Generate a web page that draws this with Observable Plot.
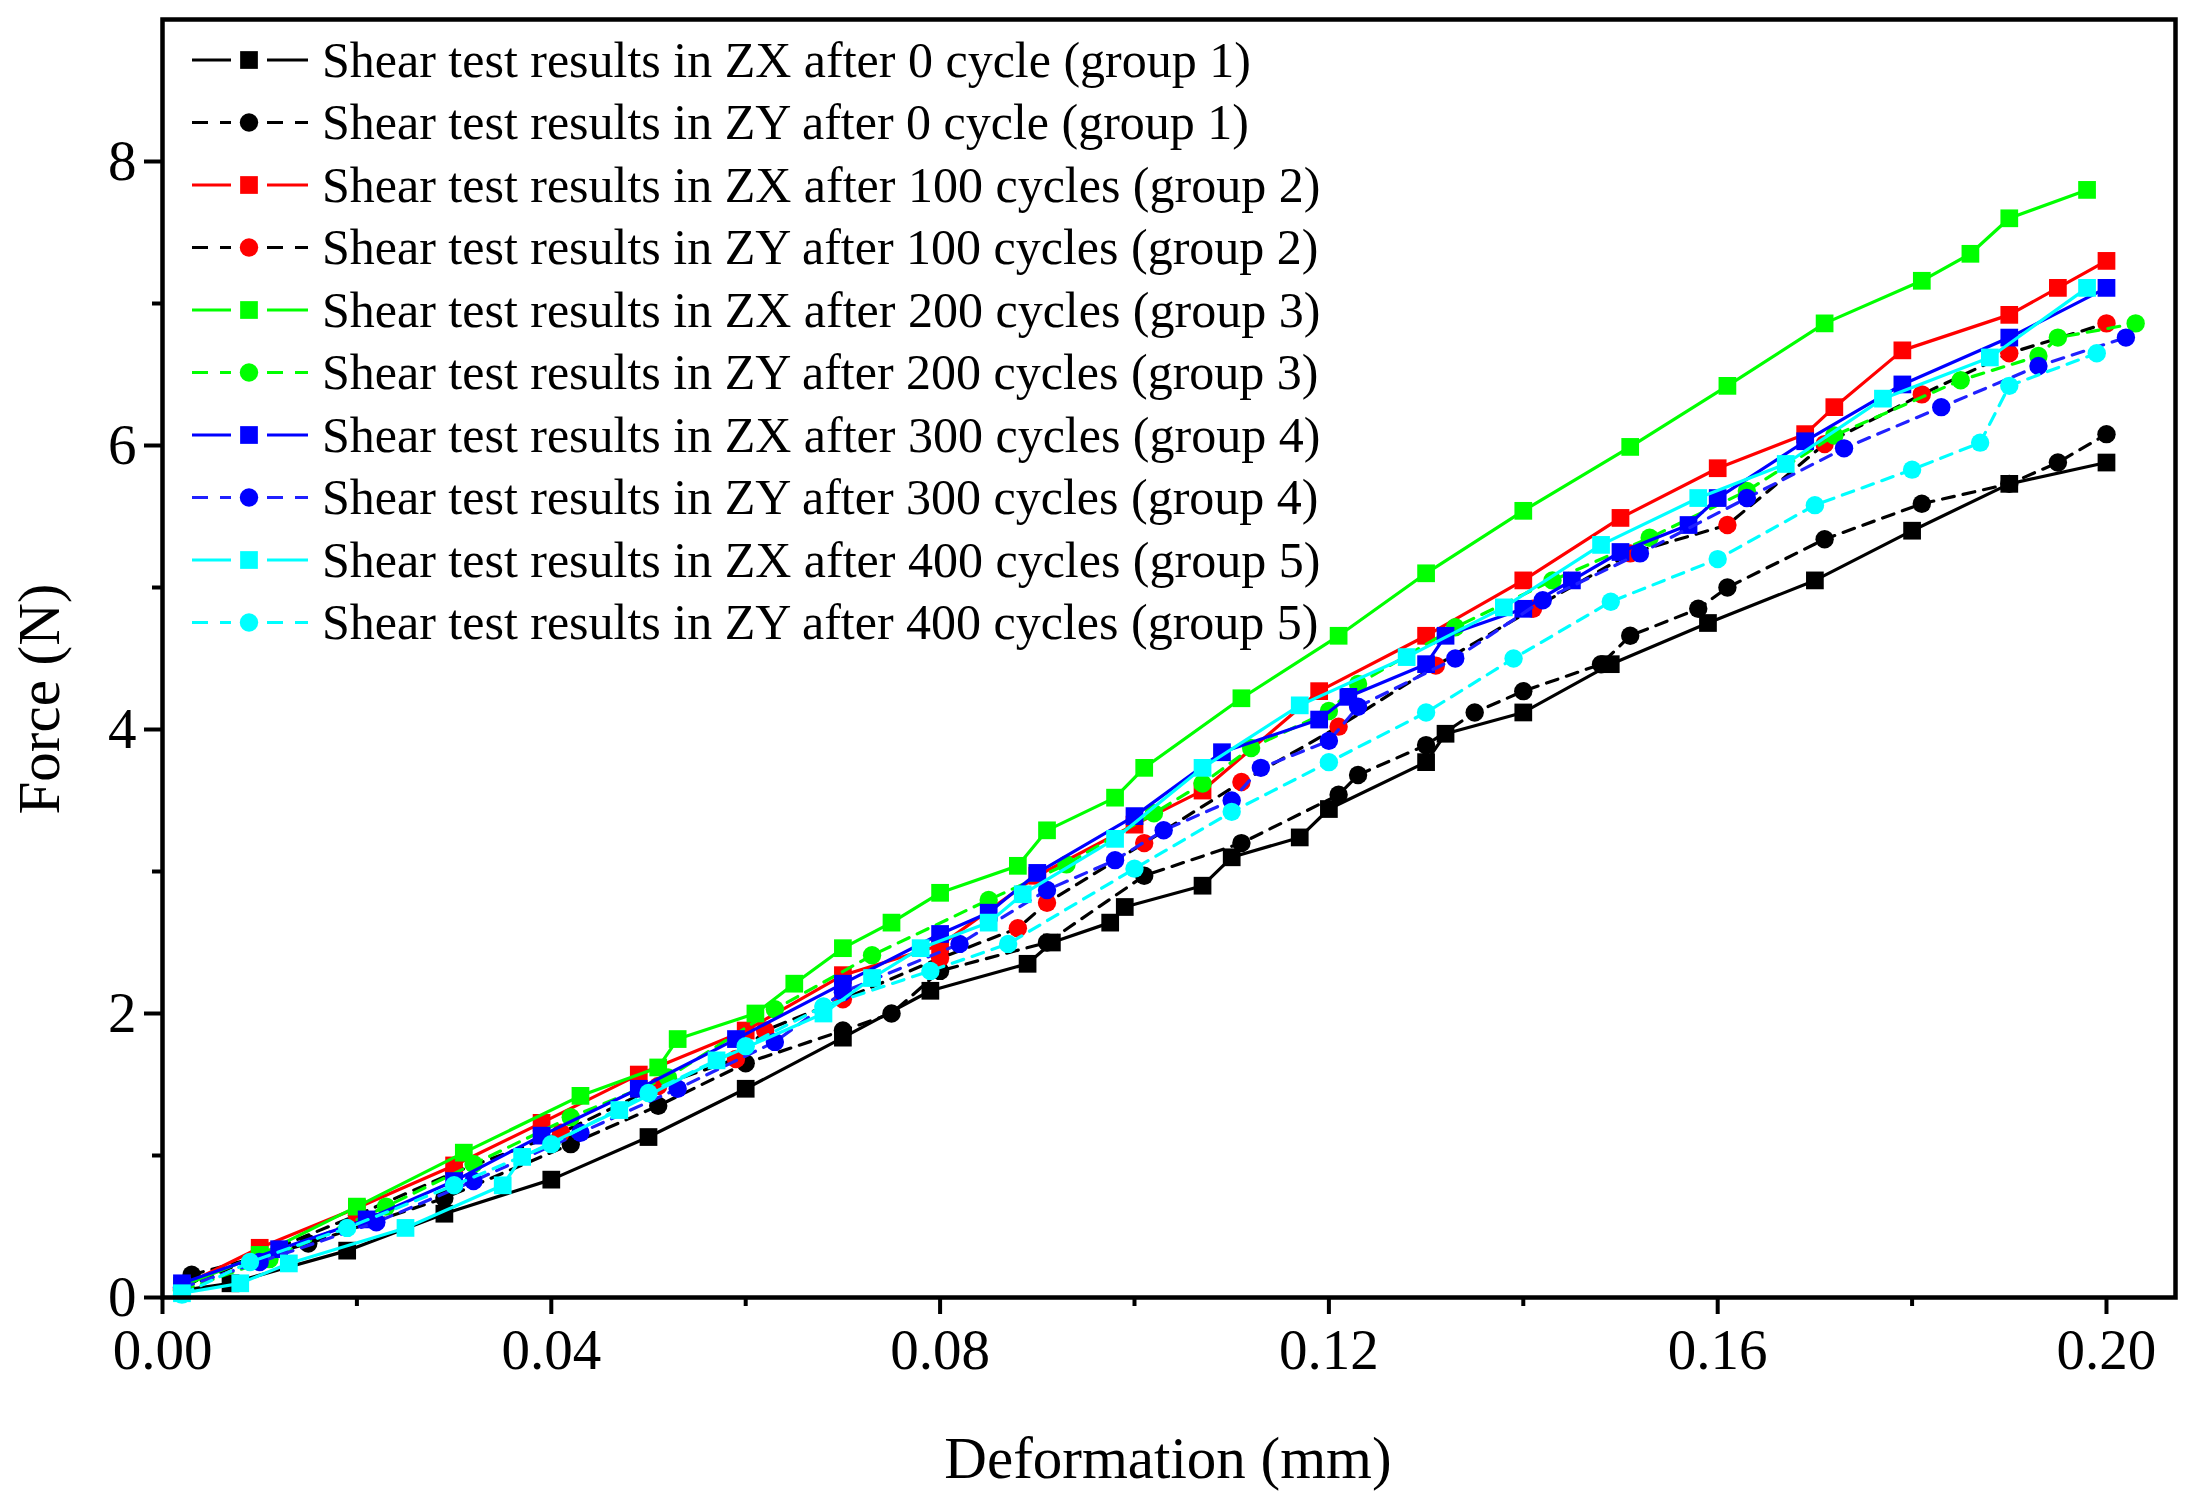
<!DOCTYPE html>
<html><head><meta charset="utf-8">
<script src="https://cdn.jsdelivr.net/npm/d3@7"></script>
<script src="https://cdn.jsdelivr.net/npm/@observablehq/plot@0.6"></script>
<style>body{margin:0;background:#fff;}</style>
</head><body><div id="chart"></div>
<script>
// ---- data ----
const names = [
  "Shear test results in ZX after 0 cycle (group 1)",
  "Shear test results in ZY after 0 cycle (group 1)",
  "Shear test results in ZX after 100 cycles (group 2)",
  "Shear test results in ZY after 100 cycles (group 2)",
  "Shear test results in ZX after 200 cycles (group 3)",
  "Shear test results in ZY after 200 cycles (group 3)",
  "Shear test results in ZX after 300 cycles (group 4)",
  "Shear test results in ZY after 300 cycles (group 4)",
  "Shear test results in ZX after 400 cycles (group 5)",
  "Shear test results in ZY after 400 cycles (group 5)"
];
const markerColors = ["#000000","#000000","#ff0000","#ff0000","#00ff00","#00ff00","#0000ff","#0000ff","#00ffff","#00ffff"];
const lineColors   = ["#000000","#000000","#ff0000","#000000","#00ff00","#00ff00","#0000ff","#2020ff","#00ffff","#00ffff"];
const symbols = ["square","circle","square","circle","square","circle","square","circle","square","circle"];
const dashed  = [false,true,false,true,false,true,false,true,false,true];

const zx0 = [[0.002,0.05],[0.007,0.10],[0.019,0.33],[0.029,0.59],[0.040,0.83],[0.050,1.13],[0.060,1.47],[0.070,1.83],[0.079,2.16],[0.089,2.35],[0.0915,2.50],[0.0975,2.64],[0.099,2.75],[0.107,2.90],[0.110,3.10],[0.117,3.24],[0.120,3.44],[0.130,3.77],[0.132,3.97],[0.140,4.12],[0.149,4.46],[0.159,4.75],[0.170,5.05],[0.180,5.40],[0.190,5.73],[0.200,5.88]];
const zy0 = [[0.003,0.16],[0.015,0.38],[0.029,0.70],[0.042,1.08],[0.051,1.35],[0.060,1.65],[0.070,1.88],[0.075,2.00],[0.080,2.30],[0.091,2.50],[0.101,2.97],[0.111,3.20],[0.121,3.54],[0.123,3.68],[0.130,3.89],[0.135,4.12],[0.140,4.27],[0.148,4.46],[0.151,4.66],[0.158,4.85],[0.161,5.00],[0.171,5.34],[0.181,5.59],[0.190,5.73],[0.195,5.88],[0.200,6.08]];
const zx100 = [[0.002,0.08],[0.010,0.35],[0.020,0.63],[0.030,0.93],[0.039,1.23],[0.049,1.57],[0.060,1.88],[0.070,2.27],[0.080,2.48],[0.090,2.97],[0.100,3.33],[0.107,3.57],[0.119,4.27],[0.130,4.66],[0.140,5.05],[0.150,5.49],[0.160,5.84],[0.169,6.08],[0.172,6.27],[0.179,6.67],[0.190,6.92],[0.195,7.11],[0.200,7.30]];
const zy100 = [[0.002,0.06],[0.010,0.30],[0.020,0.58],[0.030,0.88],[0.041,1.16],[0.051,1.49],[0.059,1.68],[0.062,1.88],[0.070,2.10],[0.080,2.39],[0.088,2.60],[0.091,2.78],[0.101,3.20],[0.111,3.63],[0.121,4.02],[0.131,4.45],[0.141,4.85],[0.151,5.24],[0.161,5.44],[0.171,6.01],[0.181,6.36],[0.190,6.65],[0.200,6.86]];
const zx200 = [[0.002,0.08],[0.010,0.30],[0.020,0.64],[0.031,1.02],[0.043,1.42],[0.051,1.62],[0.053,1.82],[0.061,2.00],[0.065,2.21],[0.070,2.46],[0.075,2.64],[0.080,2.85],[0.088,3.04],[0.091,3.29],[0.098,3.52],[0.101,3.73],[0.111,4.22],[0.121,4.66],[0.130,5.10],[0.140,5.54],[0.151,5.99],[0.161,6.42],[0.171,6.86],[0.181,7.16],[0.186,7.35],[0.190,7.60],[0.198,7.80]];
const zy200 = [[0.002,0.05],[0.011,0.27],[0.023,0.64],[0.032,0.94],[0.042,1.27],[0.052,1.55],[0.063,2.03],[0.073,2.41],[0.085,2.80],[0.093,3.05],[0.102,3.41],[0.107,3.62],[0.112,3.87],[0.120,4.13],[0.123,4.32],[0.133,4.72],[0.143,5.05],[0.153,5.35],[0.163,5.68],[0.172,6.07],[0.185,6.46],[0.193,6.63],[0.195,6.76],[0.203,6.86]];
const zx300 = [[0.002,0.10],[0.012,0.34],[0.021,0.55],[0.030,0.82],[0.039,1.14],[0.049,1.47],[0.059,1.82],[0.070,2.21],[0.080,2.56],[0.085,2.71],[0.090,2.99],[0.100,3.39],[0.109,3.84],[0.119,4.07],[0.122,4.23],[0.130,4.46],[0.132,4.66],[0.140,4.85],[0.145,5.05],[0.150,5.25],[0.157,5.44],[0.160,5.63],[0.169,6.03],[0.179,6.43],[0.190,6.76],[0.200,7.11]];
const zy300 = [[0.002,0.07],[0.010,0.25],[0.022,0.53],[0.032,0.82],[0.043,1.16],[0.053,1.47],[0.063,1.80],[0.070,2.15],[0.082,2.49],[0.091,2.87],[0.098,3.08],[0.103,3.29],[0.110,3.50],[0.113,3.73],[0.120,3.92],[0.123,4.16],[0.133,4.50],[0.142,4.91],[0.152,5.24],[0.163,5.63],[0.173,5.98],[0.183,6.27],[0.193,6.56],[0.202,6.76]];
const zx400 = [[0.002,0.03],[0.008,0.10],[0.013,0.24],[0.025,0.49],[0.035,0.79],[0.037,0.99],[0.047,1.32],[0.057,1.67],[0.068,2.00],[0.073,2.25],[0.078,2.46],[0.085,2.64],[0.0885,2.84],[0.098,3.23],[0.107,3.73],[0.117,4.17],[0.128,4.51],[0.138,4.86],[0.148,5.30],[0.158,5.63],[0.167,5.87],[0.177,6.33],[0.188,6.62],[0.198,7.11]];
const zy400 = [[0.002,0.02],[0.009,0.25],[0.019,0.49],[0.030,0.79],[0.040,1.08],[0.050,1.44],[0.060,1.77],[0.068,2.05],[0.079,2.30],[0.087,2.49],[0.100,3.02],[0.110,3.42],[0.120,3.77],[0.130,4.12],[0.139,4.50],[0.149,4.90],[0.160,5.20],[0.170,5.58],[0.180,5.83],[0.187,6.02],[0.190,6.42],[0.199,6.65]];
const seriesData = [zx0, zy0, zx100, zy100, zx200, zy200, zx300, zy300, zx400, zy400];

const xMajor = [0, 0.04, 0.08, 0.12, 0.16, 0.20];
const xMinor = [0.02, 0.06, 0.10, 0.14, 0.18];
const yMajor = [0, 2, 4, 6, 8];
const yMinor = [1, 3, 5, 7];
const xTitle = "Deformation (mm)";
const yTitle = "Force (N)";

// ---- chart ----
const FONT = "'Liberation Serif', 'Times New Roman', serif";
const SQ_R = 10, CI_R = 9.2;
const marks = [];
seriesData.forEach((pts, i) => {
  const rows = pts.map(([x, y]) => ({x, y}));
  marks.push(Plot.line(rows, {x: "x", y: "y", stroke: lineColors[i], strokeWidth: 3.2,
    strokeDasharray: dashed[i] ? "12,9" : null}));
  marks.push(Plot.dot(rows, {x: "x", y: "y", symbol: symbols[i], fill: markerColors[i], stroke: "none",
    r: symbols[i] === "square" ? SQ_R : CI_R}));
});

const svg = Plot.plot({
  width: 2194, height: 1507,
  marginLeft: 162, marginRight: 19, marginTop: 19, marginBottom: 210,
  style: {fontFamily: FONT, background: "white", color: "black"},
  x: {domain: [0, 0.2071]},
  y: {domain: [0, 9.0]},
  marks: [
    ...marks,
    Plot.axisX({ticks: xMinor, tickSize: 9, strokeWidth: 4, tickFormat: () => "", label: null}),
    Plot.axisX({ticks: xMajor, tickSize: 17, strokeWidth: 4, tickPadding: 14, fontSize: 57,
      tickFormat: d3.format(".2f"), label: null}),
    Plot.axisY({ticks: yMinor, tickSize: 10, strokeWidth: 4, tickFormat: () => "", label: null}),
    Plot.axisY({ticks: yMajor, tickSize: 18, strokeWidth: 4, tickPadding: 8, fontSize: 57, label: null}),
    Plot.frame({stroke: "black", strokeWidth: 4.5})
  ]
});

const root = d3.select(svg);
// drop the empty label texts of the minor-tick axes
root.selectAll("text").filter(function () { return this.textContent.trim() === ""; }).remove();

// axis titles
root.append("text").attr("x", 1168).attr("y", 1459).attr("dy", "0.33em")
  .attr("text-anchor", "middle").attr("font-family", FONT).attr("font-size", 59).attr("fill", "black").text(xTitle);
root.append("text").attr("transform", "translate(40,699) rotate(-90)").attr("dy", "0.33em")
  .attr("text-anchor", "middle").attr("font-family", FONT).attr("font-size", 59).attr("fill", "black").text(yTitle);

// ---- legend (inside plot, top-left) ----
const lg = root.append("g").attr("font-family", FONT).attr("font-size", 50).attr("fill", "black");
names.forEach((n, i) => {
  const cy = 60 + i * 62.5;
  const da = dashed[i] ? "16,12" : null;
  lg.append("line").attr("x1", 192).attr("x2", 231).attr("y1", cy).attr("y2", cy)
    .attr("stroke", lineColors[i]).attr("stroke-width", 3.2).attr("stroke-dasharray", da);
  lg.append("line").attr("x1", 267).attr("x2", 308).attr("y1", cy).attr("y2", cy)
    .attr("stroke", lineColors[i]).attr("stroke-width", 3.2).attr("stroke-dasharray", da);
  const sym = symbols[i] === "square" ? d3.symbolSquare : d3.symbolCircle;
  const r = symbols[i] === "square" ? SQ_R : CI_R;
  lg.append("path").attr("d", d3.symbol(sym, Math.PI * r * r)())
    .attr("transform", `translate(249,${cy})`).attr("fill", markerColors[i]);
  lg.append("text").attr("x", 322).attr("y", cy).attr("dy", "0.33em")
    .attr("text-anchor", "start").text(n);
});

document.getElementById("chart").appendChild(svg);
</script>
</body></html>
